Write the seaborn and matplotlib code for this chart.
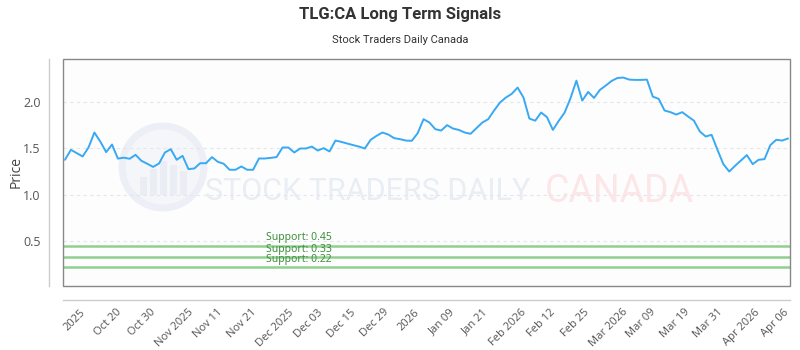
import numpy as np
import matplotlib
matplotlib.use("Agg")
import matplotlib.pyplot as plt
import seaborn as sns
from matplotlib.patches import Rectangle, Ellipse

# ---- data ----
prices = [
    1.377, 1.485, 1.449, 1.413, 1.51, 1.672, 1.575, 1.46, 1.542, 1.39,
    1.40, 1.388, 1.431, 1.366, 1.334, 1.30, 1.337, 1.456, 1.492, 1.377,
    1.42, 1.276, 1.283, 1.34, 1.34, 1.406, 1.355, 1.334, 1.269, 1.269,
    1.305, 1.269, 1.269, 1.391, 1.391, 1.398, 1.406, 1.51, 1.51, 1.456,
    1.499, 1.499, 1.52, 1.477, 1.503, 1.467, 1.585, 1.571, 1.553, 1.536,
    1.52, 1.499, 1.593, 1.636, 1.672, 1.65, 1.611, 1.60,
    1.585, 1.582, 1.665, 1.816, 1.78, 1.708, 1.693, 1.752, 1.715, 1.70,
    1.672, 1.658, 1.719, 1.78, 1.816, 1.91, 1.996, 2.05, 2.09, 2.158,
    2.05, 1.823, 1.80, 1.888, 1.838, 1.70, 1.798, 1.888, 2.043, 2.233,
    2.017, 2.111, 2.046, 2.133, 2.18, 2.23, 2.262, 2.266, 2.244, 2.241,
    2.241, 2.244, 2.06, 2.036, 1.91, 1.892, 1.866, 1.892, 1.845, 1.80,
    1.683, 1.629, 1.647, 1.485, 1.33, 1.25, 1.312, 1.37, 1.428, 1.33,
    1.377, 1.384, 1.536, 1.593, 1.585, 1.607,
]
tick_labels = ["2025", "Oct 20", "Oct 30", "Nov 2025", "Nov 11", "Nov 21",
               "Dec 2025", "Dec 03", "Dec 15", "Dec 29", "2026", "Jan 09",
               "Jan 21", "Feb 2026", "Feb 12", "Feb 25", "Mar 2026", "Mar 09",
               "Mar 19", "Mar 31", "Apr 2026", "Apr 06"]
support_levels = [0.45, 0.33, 0.22]
y_ticks = [0.5, 1.0, 1.5, 2.0]

title = "TLG:CA Long Term Signals"
subtitle = "Stock Traders Daily Canada"

# ---- figure ----
sns.set_style("white")
plt.rcParams["font.family"] = ["Open Sans", "DejaVu Sans"]

W, H = 800, 350
fig = plt.figure(figsize=(8, 3.5), dpi=100)
# plot frame in pixels: x 63..790, y 59..286
ax = fig.add_axes([63 / W, (H - 286) / H, (790 - 63) / W, (286 - 59) / H])
ax.set_facecolor("#fdfdfe")

N = len(prices)
x = np.arange(N)
px_per = (788 - 65) / (N - 1)
x0 = -(65 - 63) / px_per
x1 = (N - 1) + (790 - 788) / px_per

def px_to_x(p):
    return (p - 65) / px_per

# watermark (inside axes, below everything)
ax.add_patch(Ellipse((163 / W, 1 - 167 / H), 82 / W, 82 / H,
                     transform=fig.transFigure, facecolor="#f5f6fa",
                     edgecolor="#eceff5", lw=5, zorder=0.5))
for bx, bh in [(140, 18), (150, 26), (160, 34), (170, 30), (180, 24)]:
    ax.add_patch(Rectangle((bx / W, 1 - 195 / H), 7 / W, bh / H,
                           transform=fig.transFigure,
                           facecolor="#eaedf4", edgecolor="none", zorder=0.6))

# gridlines
for yv in y_ticks:
    ax.axhline(yv, color="#e3e6ea", lw=0.8, ls=(0, (3, 3)), zorder=1)

# support lines
for lv in support_levels:
    ax.axhline(lv, color="#90cf90", lw=1.8, zorder=2)

sns.lineplot(x=x, y=prices, ax=ax, color="#38a9f3", lw=1.4, zorder=4)

ax.set_xlim(x0, x1)
ax.set_ylim(0.012, 2.467)

ax.text(px_to_x(205), 1.03, "STOCK TRADERS DAILY", fontsize=22,
        color="#e9edf4", ha="left", va="center",
        family=["Roboto", "DejaVu Sans"], zorder=0.7)
ax.text(px_to_x(545), 1.03, "CANADA", fontsize=27, color="#fde6e8",
        ha="left", va="center", family=["Roboto", "DejaVu Sans"], zorder=0.7)
for lv in support_levels:
    ax.annotate(f"Support: {lv:.2f}", xy=(px_to_x(266), lv),
                xytext=(0, 1.5), textcoords="offset points",
                fontsize=7.5, color="#3f8f3f", ha="left", va="bottom",
                family=["Noto Sans", "DejaVu Sans"], zorder=3)

# ticks
tick_pos = [px_to_x(75 + 33.33 * i) for i in range(len(tick_labels))]
ax.set_xticks(tick_pos, labels=tick_labels)
ax.set_yticks(y_ticks, labels=[f"{v:.1f}" for v in y_ticks])
ax.tick_params(axis="x", length=0, pad=5, labelrotation=45, labelsize=8,
               labelcolor="#555555")
ax.tick_params(axis="y", length=0, pad=6, labelsize=9, labelcolor="#555555")
plt.setp(ax.get_xticklabels(), ha="right", rotation_mode="anchor")
ax.set_ylabel("")
ax.set_xlabel("")
fig.text(16 / W, 1 - 172 / H, "Price", rotation=90, ha="center", va="center",
         fontsize=10, color="#444444")

# spines
for s in ["top", "right"]:
    ax.spines[s].set_visible(False)
ax.spines["left"].set_position(("outward", 10))
ax.spines["bottom"].set_position(("outward", 10))
ax.spines["left"].set_color("#cccccc")
ax.spines["bottom"].set_color("#cccccc")
ax.spines["left"].set_linewidth(1)
ax.spines["bottom"].set_linewidth(1)
ax.add_patch(Rectangle((0, 0), 1, 1, transform=ax.transAxes, fill=False,
                       edgecolor="#888888", lw=1, clip_on=False, zorder=5))

fig.text(0.5, 1 - 15 / H, title, ha="center", va="center", fontsize=12,
         fontweight="bold", color="#333333", family=["Roboto", "DejaVu Sans"])
fig.text(0.5, 1 - 40 / H, subtitle, ha="center", va="center", fontsize=8,
         color="#333333", family=["Roboto", "DejaVu Sans"])

fig.savefig("out.png", dpi=100, facecolor="white")
